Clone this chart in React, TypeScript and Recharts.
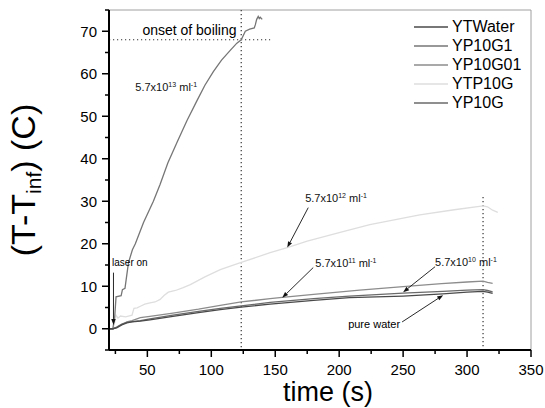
import React from "react";
import { Legend, Line, LineChart, ReferenceDot, ReferenceLine, XAxis, YAxis } from "recharts";

const FONT = "Arial, 'Liberation Sans', sans-serif";

// 5.7x10^13 ml^-1 (boils)
const g1Time = [20, 23, 24.5, 25.5, 29.5, 30.5, 32.5, 35.2, 38.3, 40.6, 47, 54.7, 60, 66, 73.4, 81, 89, 95, 101.6, 108, 114.8, 120, 123.4, 126.6, 130, 133.6, 134.4, 135.5, 136.7, 137.5, 138.3, 139.8];
const g1Temp = [0, 0, 3, 7.5, 7.8, 9.2, 9.5, 15.5, 18.6, 20, 25, 30, 34, 39, 44, 49, 53.8, 57.3, 60.5, 63.2, 65.5, 67.2, 68, 70, 70.5, 70.8, 71.5, 72.8, 73.5, 73, 73.3, 72.8];

// 5.7x10^12 ml^-1
const tpTime = [20, 23, 24.5, 25.5, 27, 29, 33, 38, 39.5, 42, 44.5, 48, 52, 56, 60, 63, 66.4, 72, 78, 83.6, 95, 107, 123.4, 146, 159.4, 175, 200, 224, 263, 290, 312.5, 316, 320, 324];
const tpTemp = [0, 0, 1.5, 3.2, 2.5, 3, 2.8, 3.2, 4.8, 4.9, 5.3, 5.8, 6.1, 6.3, 6.9, 7.8, 8.6, 9, 9.7, 10.4, 12.2, 13.9, 15.6, 17.9, 19.1, 20.6, 22.6, 24.5, 26.8, 28, 28.9, 28.7, 27.9, 27.4];

// 5.7x10^11 ml^-1
const g01Time = [20, 23, 26, 30, 34, 38, 44.5, 52, 70, 90, 107, 123.4, 146, 155.5, 180, 216, 250, 280, 300, 312.5, 316, 320];
const g01Temp = [0, 0, 0.3, 1, 1.6, 1.9, 2.6, 2.9, 3.7, 4.6, 5.5, 6.3, 7.1, 7.4, 8.1, 9.1, 9.9, 10.6, 11, 11.2, 10.9, 10.7];

// 5.7x10^10 ml^-1
const gTime = [20, 23, 26, 30, 34, 38, 44.5, 52, 70, 90, 107, 123.4, 146, 180, 208, 250, 281, 300, 312.5, 316, 320];
const gTemp = [0, 0, 0.4, 1.1, 1.5, 1.7, 1.9, 2.3, 3.2, 4.1, 4.8, 5.4, 6.2, 7.1, 7.7, 8.4, 8.8, 9.1, 9.2, 9.0, 8.7];

// pure water
const waterTime = [20, 23, 26, 30, 34, 38, 44.5, 52, 70, 90, 107, 123.4, 146, 180, 208, 250, 281, 300, 312.5, 316, 320];
const waterTemp = [0, 0, 0.2, 0.9, 1.4, 1.6, 1.8, 2.1, 2.9, 3.8, 4.5, 5.1, 5.8, 6.7, 7.3, 7.7, 8.2, 8.6, 8.8, 8.6, 8.3];

const xTicks = [25, 50, 75, 100, 125, 150, 175, 200, 225, 250, 275, 300, 325, 350];
const yTicks = [-5, 0, 5, 10, 15, 20, 25, 30, 35, 40, 45, 50, 55, 60, 65, 70, 75];

const zip = (xs: number[], ys: number[]) => xs.map((x, i) => ({ x, y: ys[i] }));

// legend order, drawing order is below
const series = [
  { key: "YTWater", color: "#4a4a4a", data: zip(waterTime, waterTemp) },
  { key: "YP10G1", color: "#767676", data: zip(g1Time, g1Temp) },
  { key: "YP10G01", color: "#8c8c8c", data: zip(g01Time, g01Temp) },
  { key: "YTP10G", color: "#dedede", data: zip(tpTime, tpTemp) },
  { key: "YP10G", color: "#6a6a6a", data: zip(gTime, gTemp) },
];
const drawOrder = ["YTP10G", "YP10G1", "YP10G01", "YP10G", "YTWater"];

// annotation text: [x, y, mantissa exponent or plain text]
const sciLabels = [
  { x: 40.6, y: 56, exp: "13" },
  { x: 173.4, y: 29.9, exp: "12" },
  { x: 181.3, y: 14.6, exp: "11" },
  { x: 275, y: 14.8, exp: "10" },
];
const arrows = [
  { from: { x: 175.8, y: 28.5 }, to: { x: 159.4, y: 19.1 } },
  { from: { x: 179.7, y: 14.4 }, to: { x: 155.5, y: 7.3 } },
  { from: { x: 275, y: 14.6 }, to: { x: 250, y: 8.6 } },
  { from: { x: 249.2, y: 1.6 }, to: { x: 281.3, y: 7.9 } },
  { from: { x: 23.5, y: 13.2 }, to: { x: 23.5, y: 0.9 } },
];

function XTick({ x, y, payload }: any) {
  const major = payload.value % 50 === 0;
  return (
    <g>
      <line x1={x} x2={x} y1={y} y2={y + (major ? 7 : 4)} stroke="#000" strokeWidth={1.5} />
      {major && (
        <text x={x} y={y + 25} textAnchor="middle" fontSize={15} fontFamily={FONT} fill="#000">
          {payload.value}
        </text>
      )}
    </g>
  );
}

function YTick({ x, y, payload }: any) {
  const major = payload.value % 10 === 0;
  return (
    <g>
      <line x1={x} x2={x - (major ? 7 : 4)} y1={y} y2={y} stroke="#000" strokeWidth={1.5} />
      {major && (
        <text x={x - 12} y={y + 5.5} textAnchor="end" fontSize={15} fontFamily={FONT} fill="#000">
          {payload.value}
        </text>
      )}
    </g>
  );
}

function Arrow(p: any) {
  const { x1, y1, x2, y2 } = p;
  const a = Math.atan2(y2 - y1, x2 - x1);
  const len = 6, w = 2.2;
  const bx = x2 - len * Math.cos(a), by = y2 - len * Math.sin(a);
  const pts = `${x2},${y2} ${bx - w * Math.sin(a)},${by + w * Math.cos(a)} ${bx + w * Math.sin(a)},${by - w * Math.cos(a)}`;
  return (
    <g>
      <line x1={x1} y1={y1} x2={bx} y2={by} stroke="#111" strokeWidth={0.9} />
      <polygon points={pts} fill="#111" />
    </g>
  );
}

function Sci({ cx, cy, exp }: any) {
  return (
    <text x={cx} y={cy} fontSize={11} fontFamily={FONT} fill="#111">
      5.7x10<tspan dy={-4} fontSize={7}>{exp}</tspan>
      <tspan dy={4} fontSize={11}> ml</tspan>
      <tspan dy={-4} fontSize={7}>-1</tspan>
    </text>
  );
}

function LegendBox() {
  return (
    <div style={{ fontFamily: FONT, fontSize: 16, lineHeight: "19px", color: "#000" }}>
      {series.map((s) => (
        <div key={s.key} style={{ display: "flex", alignItems: "center", height: 19 }}>
          <svg width={38} height={19}>
            <line x1={0} x2={34} y1={10} y2={10} stroke={s.color} strokeWidth={1.5} />
          </svg>
          <span>{s.key}</span>
        </div>
      ))}
    </div>
  );
}

function YTitle({ viewBox }: any) {
  const x = viewBox.x - 14;
  const y = viewBox.y + viewBox.height / 2;
  return (
    <text x={x} y={y} transform={`rotate(-90, ${x}, ${y})`} textAnchor="middle" fontSize={34} fontFamily={FONT} fill="#000">
      (T-T<tspan dy={6} fontSize={21}>inf</tspan>
      <tspan dy={-6} fontSize={34}>) (C)</tspan>
    </text>
  );
}

function XTitle({ viewBox }: any) {
  return (
    <text x={viewBox.x + viewBox.width / 2 + 8} y={viewBox.y + 51} textAnchor="middle" fontSize={27} fontFamily={FONT} fill="#000">
      time (s)
    </text>
  );
}

export default function App() {
  return (
    <div style={{ position: "absolute", left: 0, top: 0, background: "#fff" }}>
      <LineChart width={545} height={408} margin={{ top: 10, right: 14, bottom: 28, left: 49 }}>
        <XAxis
          type="number"
          dataKey="x"
          domain={[20, 350]}
          ticks={xTicks}
          interval={0}
          allowDataOverflow
          height={30}
          tickSize={0}
          tickMargin={0}
          tickLine={false}
          tick={<XTick />}
          axisLine={{ stroke: "#000", strokeWidth: 2 }}
          label={{ content: <XTitle /> }}
        />
        <YAxis
          type="number"
          dataKey="y"
          domain={[-5, 75]}
          ticks={yTicks}
          interval={0}
          allowDataOverflow
          width={60}
          tickSize={0}
          tickMargin={0}
          tickLine={false}
          tick={<YTick />}
          axisLine={{ stroke: "#000", strokeWidth: 2 }}
          label={{ content: <YTitle /> }}
        />
        <ReferenceLine y={75} stroke="#a0a0a0" strokeWidth={1} />
        <ReferenceLine x={350} stroke="#a0a0a0" strokeWidth={1} />
        <ReferenceLine segment={[{ x: 123.4, y: 75 }, { x: 123.4, y: -5 }]} stroke="#333" strokeWidth={1.2} strokeDasharray="1.2 2.8" />
        <ReferenceLine segment={[{ x: 20, y: 68 }, { x: 146, y: 68 }]} stroke="#333" strokeWidth={1.2} strokeDasharray="1.2 2.8" />
        <ReferenceLine segment={[{ x: 312.5, y: 31 }, { x: 312.5, y: -5 }]} stroke="#333" strokeWidth={1.2} strokeDasharray="1.2 2.8" />
        {drawOrder.map((k) => {
          const s = series.find((t) => t.key === k)!;
          return (
            <Line
              key={s.key}
              name={s.key}
              data={s.data}
              dataKey="y"
              type="linear"
              stroke={s.color}
              strokeWidth={1.3}
              dot={false}
              activeDot={false}
              isAnimationActive={false}
            />
          );
        })}
        {arrows.map((a, i) => (
          <ReferenceLine key={`a${i}`} segment={[a.from, a.to]} shape={(p: any) => <Arrow {...p} />} />
        ))}
        {sciLabels.map((l) => (
          <ReferenceDot key={l.exp} x={l.x} y={l.y} r={0} shape={(p: any) => <Sci cx={p.cx} cy={p.cy} exp={l.exp} />} />
        ))}
        <ReferenceDot
          x={46.1}
          y={69.2}
          r={0}
          shape={(p: any) => (
            <text x={p.cx} y={p.cy} fontSize={14} fontFamily={FONT} fill="#000">onset of boiling</text>
          )}
        />
        <ReferenceDot
          x={22.4}
          y={14.8}
          r={0}
          shape={(p: any) => (
            <text x={p.cx} y={p.cy} fontSize={10} fontFamily={FONT} fill="#000">laser on</text>
          )}
        />
        <ReferenceDot
          x={207}
          y={0.2}
          r={0}
          shape={(p: any) => (
            <text x={p.cx} y={p.cy} fontSize={11} fontFamily={FONT} fill="#000">pure water</text>
          )}
        />
        <Legend
          layout="vertical"
          align="center"
          verticalAlign="middle"
          wrapperStyle={{ left: 414, top: 17, width: 120 }}
          content={<LegendBox />}
        />
      </LineChart>
    </div>
  );
}
